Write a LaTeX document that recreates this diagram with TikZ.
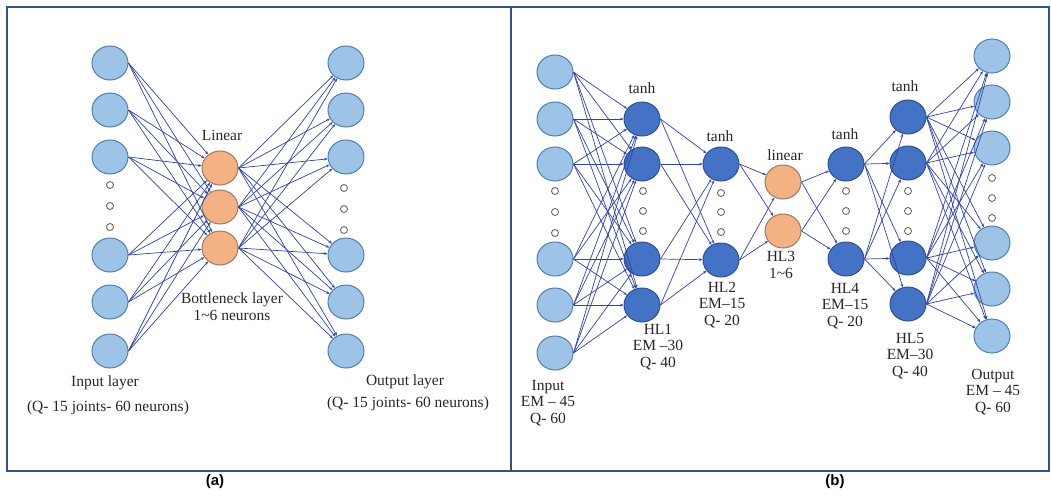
\documentclass[tikz,border=0pt]{standalone}
\usepackage{fontspec}
\setmainfont{Liberation Serif}
\setsansfont{Liberation Sans}
\usetikzlibrary{shapes.geometric,arrows.meta}
\definecolor{frameblue}{HTML}{2B5783}
\definecolor{lightfill}{HTML}{9DC3E6}
\definecolor{lightdraw}{HTML}{4F7FAE}
\definecolor{darkfill}{HTML}{4472C4}
\definecolor{darkdraw}{HTML}{2F4F8F}
\definecolor{orangefill}{HTML}{F4B183}
\definecolor{orangedraw}{HTML}{9A7A66}
\definecolor{edgeblue}{HTML}{31439A}
\definecolor{dotgray}{HTML}{6A6A6A}
\tikzset{
  neuron/.style={ellipse,minimum width=36pt,minimum height=34pt,inner sep=0pt,line width=1pt},
  lightn/.style={neuron,fill=lightfill,draw=lightdraw},
  darkn/.style={neuron,fill=darkfill,draw=darkdraw},
  orangen/.style={neuron,fill=orangefill,draw=orangedraw},
  smalldot/.style={circle,minimum size=7pt,inner sep=0pt,draw=dotgray,line width=0.9pt,fill=white},
  conn/.style={draw=edgeblue,line width=0.7pt,-{Stealth[length=3.5pt,width=2.8pt]}},
  lbl/.style={font=\fontsize{15.5}{16.8}\selectfont,align=center,inner sep=0pt,text=black!85},
  panelframe/.style={draw=frameblue,line width=2pt},
  captext/.style={font=\sffamily\bfseries\fontsize{15}{17}\selectfont,inner sep=0pt}
}
\begin{document}
\begin{tikzpicture}[x=1pt,y=-1pt]
\useasboundingbox (0,0) rectangle (1051,495);
% frames
\draw[panelframe] (7,7) rectangle (511,471);
\draw[panelframe] (511,7) rectangle (1049,471);
\node[captext] (capa) at (215,482) {(a)};
\node[captext] (capb) at (835,482) {(b)};

% ---------- Panel (a) ----------
\foreach \i/\y in {1/63,2/110,3/157,4/255,5/302,6/351}{
  \node[lightn] (ai\i) at (110,\y) {};
  \node[lightn] (ao\i) at (346,\y) {};
}
\foreach \i/\y in {1/168,2/207,3/248}{
  \node[orangen] (ab\i) at (220,\y) {};
}
\foreach \i/\y in {1/185,2/206,3/227}{
  \node[smalldot] (aid\i) at (110,\y) {};
}
\foreach \i/\y in {1/188,2/209,3/230}{
  \node[smalldot] (aod\i) at (344,\y) {};
}
\foreach \s in {1,...,6}{
  \foreach \t in {1,2,3}{
    \draw[conn] (ai\s.east) -- (ab\t);
    \draw[conn] (ab\t.east) -- (ao\s);
  }
}
\node[lbl] (alin) at (222,135) {Linear};
\node[lbl] (abot) at (232,307) {Bottleneck layer\\1\textasciitilde6 neurons};
\node[lbl] (ain) at (105,383) {Input layer};
\node[lbl] (ainq) at (108,408) {(Q- 15 joints- 60 neurons)};
\node[lbl] (aout) at (405,382) {Output layer};
\node[lbl] (aoutq) at (408,404) {(Q- 15 joints- 60 neurons)};

% ---------- Panel (b) ----------
\foreach \i/\y in {1/72,2/119,3/164,4/259,5/305,6/353}{
  \node[lightn] (bi\i) at (555,\y) {};
}
\foreach \i/\y in {1/56,2/102,3/148,4/243,5/289,6/336}{
  \node[lightn] (bo\i) at (992,\y) {};
}
\foreach \i/\y in {1/119,2/164,3/259,4/305}{
  \node[darkn] (ha\i) at (642,\y) {};
}
\foreach \i/\y in {1/164,2/260}{
  \node[darkn] (hb\i) at (721,\y) {};
}
\foreach \i/\y in {1/182,2/231}{
  \node[orangen] (hc\i) at (783,\y) {};
}
\foreach \i/\y in {1/164,2/259}{
  \node[darkn] (hd\i) at (846,\y) {};
}
\foreach \i/\y in {1/117,2/163,3/258,4/304}{
  \node[darkn] (he\i) at (908,\y) {};
}
% dots
\foreach \i/\y in {1/191,2/212,3/233}{
  \node[smalldot] (bid\i) at (555,\y) {};
}
\foreach \i/\y in {1/191,2/211,3/231}{
  \node[smalldot] (had\i) at (643,\y) {};
  \node[smalldot] (hdd\i) at (846,\y) {};
  \node[smalldot] (hed\i) at (908,\y) {};
}
\foreach \i/\y in {1/193,2/212,3/232}{
  \node[smalldot] (hbd\i) at (721,\y) {};
}
\foreach \i/\y in {1/178,2/198,3/218}{
  \node[smalldot] (bod\i) at (992,\y) {};
}
% connections
\foreach \s in {1,...,6}{
  \foreach \t in {1,...,4}{
    \draw[conn] (bi\s.east) -- (ha\t);
    \draw[conn] (he\t.east) -- (bo\s);
  }
}
\foreach \s in {1,...,4}{
  \foreach \t in {1,2}{
    \draw[conn] (ha\s.east) -- (hb\t);
    \draw[conn] (hd\t.east) -- (he\s);
  }
}
\foreach \s in {1,2}{
  \foreach \t in {1,2}{
    \draw[conn] (hb\s.east) -- (hc\t);
    \draw[conn] (hc\s.east) -- (hd\t);
  }
}
% labels
\node[lbl] (t1) at (642,88) {tanh};
\node[lbl] (t2) at (720,136) {tanh};
\node[lbl] (t3) at (785,155) {linear};
\node[lbl] (t4) at (845,134) {tanh};
\node[lbl] (t5) at (905,86) {tanh};
\node[lbl] (l1) at (658,347) {HL1\\EM --30\\Q- 40};
\node[lbl] (l2) at (722,305) {HL2\\EM--15\\Q- 20};
\node[lbl] (l3) at (781,265) {HL3\\1\textasciitilde6};
\node[lbl] (l4) at (845,306) {HL4\\EM--15\\Q- 20};
\node[lbl] (l5) at (910,356) {HL5\\EM--30\\Q- 40};
\node[lbl] (lin) at (548,403) {Input\\EM -- 45\\Q- 60};
\node[lbl] (lout) at (993,392) {Output\\EM -- 45\\Q- 60};
\end{tikzpicture}
\end{document}
